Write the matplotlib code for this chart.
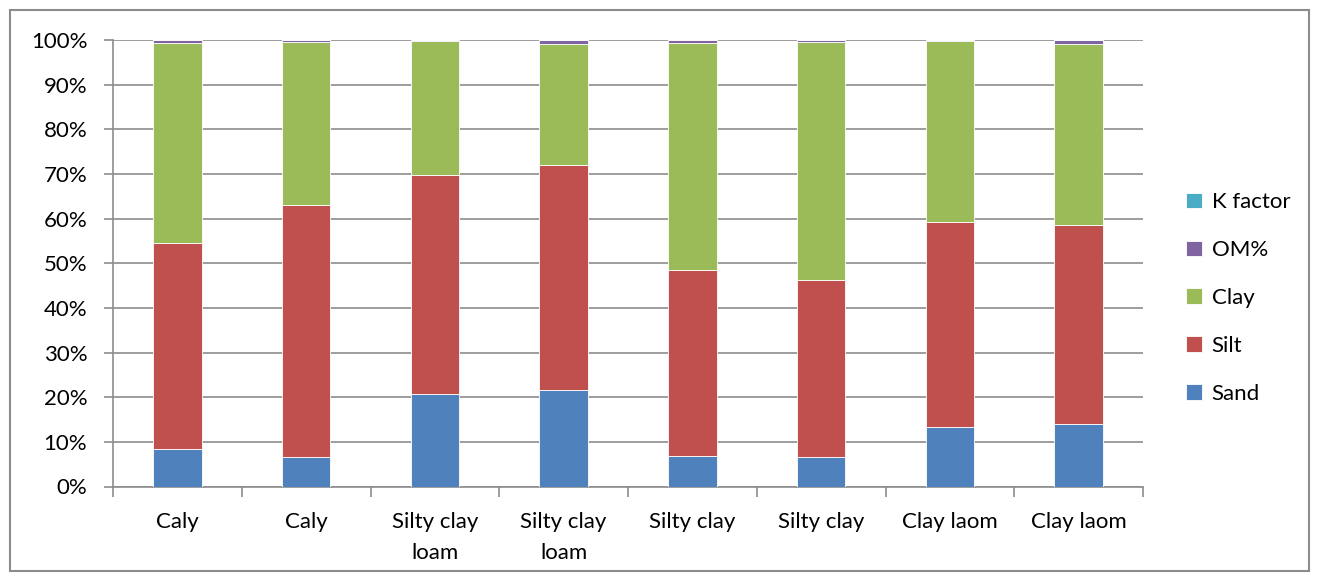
import matplotlib
matplotlib.use("Agg")
import matplotlib.pyplot as plt
import numpy as np
from matplotlib.patches import Rectangle

categories = ["Caly", "Caly", "Silty clay\nloam", "Silty clay\nloam",
              "Silty clay", "Silty clay", "Clay laom", "Clay laom"]

sand = [8.4, 6.6, 20.7, 21.6, 6.8, 6.6, 13.4, 13.9]
silt = [46.1, 56.4, 49.1, 50.4, 41.7, 39.6, 45.8, 44.7]
clay = [44.8, 36.5, 29.9, 27.2, 50.9, 53.4, 40.5, 40.5]
om = [0.7, 0.5, 0.3, 0.8, 0.6, 0.4, 0.3, 0.9]
k_factor = [0.03, 0.03, 0.03, 0.03, 0.03, 0.03, 0.03, 0.03]

series = [("Sand", sand, "#4F81BD"), ("Silt", silt, "#C0504D"),
          ("Clay", clay, "#9BBB59"), ("OM%", om, "#8064A2"),
          ("K factor", k_factor, "#4BACC6")]

plt.rcParams['font.family'] = ['Lato', 'DejaVu Sans']
FS = 16

fig = plt.figure(figsize=(13.19, 5.81), dpi=100)
W, H = 1319, 581
ax = fig.add_axes([113 / W, 1 - 486.5 / H, (1143 - 113) / W, (486.5 - 40) / H])

totals = np.sum([s[1] for s in series], axis=0)
x = np.arange(len(categories))
bottom = np.zeros(len(categories))
handles = []
for name, vals, color in series:
    pct = np.array(vals) / totals * 100
    b = ax.bar(x, pct, bottom=bottom, width=0.375, color=color,
               edgecolor="#ffffff", linewidth=0.6, label=name, zorder=3)
    handles.append(b)
    bottom += pct

ax.set_xlim(-0.5, len(categories) - 0.5)
ax.set_ylim(0, 100)
ax.set_yticks(np.arange(0, 101, 10))
ax.set_yticklabels([f"{v}%" for v in range(0, 101, 10)], fontsize=FS)
ax.yaxis.grid(True, color="#8c8c8c", linewidth=1.2, zorder=0)

ax.set_xticks(x)
ax.set_xticklabels(categories, fontsize=FS, linespacing=1.7, va="top")
ax.tick_params(axis="x", length=0, pad=18)
ax.set_xticks(np.arange(-0.5, len(categories)), minor=True)
ax.tick_params(axis="x", which="minor", length=7, width=1.2, color="#8c8c8c")
ax.tick_params(axis="y", length=6.5, width=1.2, color="#8c8c8c", pad=12)

for side in ["top", "right"]:
    ax.spines[side].set_visible(False)
for side in ["left", "bottom"]:
    ax.spines[side].set_color("#8c8c8c")
    ax.spines[side].set_linewidth(1.2)

leg = fig.legend(handles[::-1], [s[0] for s in series][::-1],
                 loc="center left", bbox_to_anchor=(1166 / W, 1 - 298 / H),
                 frameon=False, fontsize=FS, handlelength=0.7,
                 handleheight=0.7, labelspacing=1.25, handletextpad=0.45)

fig.patches.append(Rectangle((10 / W, 10 / H), (1309 - 10) / W, (571 - 10) / H,
                             transform=fig.transFigure, fill=False,
                             edgecolor="#8c8c8c", linewidth=1.5))

fig.savefig("out.png", dpi=100)
